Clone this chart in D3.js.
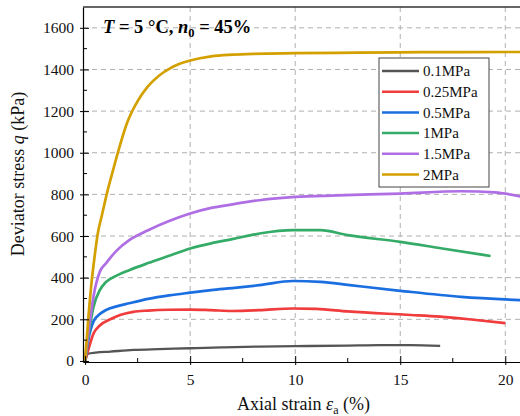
<!DOCTYPE html>
<html>
<head>
<meta charset="utf-8">
<script src="https://cdn.jsdelivr.net/npm/d3@7"></script>
<style>
  body { margin: 0; background: #fff; }
  text { font-family: "Liberation Serif", "DejaVu Serif", serif; }
</style>
</head>
<body>
<div id="wrapper"></div>
<script>
const seriesNames = ["0.1MPa", "0.25MPa", "0.5MPa", "1MPa", "1.5MPa", "2MPa"]
const seriesColors = ["#555555", "#f03c3c", "#1a6ee0", "#35ab68", "#b06ee4", "#d4a000"]

// [axial strain %, deviator stress kPa]
const s01 = [[0,0],[0.15,35],[0.5,40],[1.2,45],[2.3,53],[3.5,57],[5,61],[6.5,65],[8.3,69],[10,71],[12.5,74],[14,76],[15.5,76],[16.9,72]]
const s025 = [[0,0],[0.2,70],[0.4,132],[0.7,170],[1.2,200],[1.7,222],[2.3,236],[3,242],[4,246],[5,247],[6,244],[7,240],[8.3,244],[9.9,252],[11,250],[12.5,238],[15.3,222],[16.9,213],[18.5,198],[20,182]]
const s05 = [[0,0],[0.15,100],[0.4,190],[0.7,225],[1,245],[1.5,262],[2.1,277],[3,298],[4,315],[5,328],[6,340],[7,350],[8.3,364],[9.9,384],[11.2,380],[12.6,364],[15,337],[17.9,308],[20.8,292]]
const s1 = [[0,0],[0.2,150],[0.4,260],[0.7,340],[1,380],[1.5,410],[2.1,436],[3,470],[4,505],[5,540],[6,565],[7,585],[8.3,612],[9.9,628],[11.2,628],[12.5,604],[15,572],[17,540],[19.3,504]]
const s15 = [[0,0],[0.2,170],[0.4,310],[0.7,428],[1,470],[1.5,530],[2.1,580],[3,628],[4,672],[5,708],[6,735],[7,752],[8.3,772],[10,788],[12,795],[15,804],[17.9,815],[19.5,810],[20.8,788]]
const s2 = [[0,0],[0.15,200],[0.3,370],[0.45,500],[0.6,610],[0.8,700],[1.05,810],[1.3,905],[1.6,1015],[2,1144],[2.5,1248],[3,1320],[3.5,1369],[4,1403],[4.5,1427],[5,1443],[6,1463],[7,1471],[8,1475],[10,1478],[13,1481],[16,1483],[20.8,1484]]
const seriesData = [s01, s025, s05, s1, s15, s2]

const xTicks = [0, 5, 10, 15, 20]
const xMinorTicks = [2.5, 7.5, 12.5, 17.5]
const yTicks = [0, 200, 400, 600, 800, 1000, 1200, 1400, 1600]
const yMinorTicks = [100, 300, 500, 700, 900, 1100, 1300, 1500]

const width = 520
const height = 416
const margin = { top: 7, right: 0, bottom: 54, left: 83 }
const boundedWidth = width - margin.left - margin.right
const boundedHeight = height - margin.top - margin.bottom

const svg = d3.select("#wrapper")
  .append("svg")
    .attr("width", width)
    .attr("height", height)

const bounds = svg.append("g")
    .attr("transform", `translate(${margin.left},${margin.top})`)

const xScale = d3.scaleLinear()
    .domain([-0.1, 20.7])
    .range([0, boundedWidth])

const yScale = d3.scaleLinear()
    .domain([-5, 1700])
    .range([boundedHeight, 0])

// grid
bounds.append("g")
  .selectAll("line")
  .data(xTicks.filter(d => d > 0))
  .join("line")
    .attr("x1", d => xScale(d))
    .attr("x2", d => xScale(d))
    .attr("y1", 0)
    .attr("y2", boundedHeight)
    .attr("stroke", "#b0b0b0")
    .attr("stroke-dasharray", "5,4")
bounds.append("g")
  .selectAll("line")
  .data(yTicks.filter(d => d > 0))
  .join("line")
    .attr("x1", 0)
    .attr("x2", boundedWidth)
    .attr("y1", d => yScale(d))
    .attr("y2", d => yScale(d))
    .attr("stroke", "#b0b0b0")
    .attr("stroke-dasharray", "5,4")

// curves
const lineGenerator = d3.line()
  .x(d => xScale(d[0]))
  .y(d => yScale(d[1]))
  .curve(d3.curveMonotoneX)

svg.append("clipPath").attr("id", "clip")
  .append("rect").attr("width", boundedWidth).attr("height", boundedHeight)

bounds.append("g")
    .attr("clip-path", "url(#clip)")
  .selectAll("path")
  .data(seriesData)
  .join("path")
    .attr("d", d => lineGenerator(d))
    .attr("fill", "none")
    .attr("stroke", (d, i) => seriesColors[i])
    .attr("stroke-width", (d, i) => i === 0 ? 2.3 : 2.7)

// axes
const xAxis = bounds.append("g")
    .attr("transform", `translate(0,${boundedHeight})`)
    .call(d3.axisBottom(xScale).tickValues(xTicks).tickFormat(d3.format("d"))
      .tickSizeInner(-6).tickSizeOuter(0).tickPadding(12))
xAxis.selectAll(".tick line").attr("y1", 3)
xAxis.append("g")
  .selectAll("line")
  .data(xMinorTicks)
  .join("line")
    .attr("x1", d => xScale(d))
    .attr("x2", d => xScale(d))
    .attr("y1", 0)
    .attr("y2", -4)
    .attr("stroke", "#000")

const yAxis = bounds.append("g")
    .call(d3.axisLeft(yScale).tickValues(yTicks).tickFormat(d3.format("d"))
      .tickSizeInner(-6).tickSizeOuter(0).tickPadding(9))
yAxis.selectAll(".tick line").attr("x1", -3)
yAxis.append("g")
  .selectAll("line")
  .data(yMinorTicks)
  .join("line")
    .attr("x1", 0)
    .attr("x2", 4)
    .attr("y1", d => yScale(d))
    .attr("y2", d => yScale(d))
    .attr("stroke", "#000")

svg.selectAll(".tick text")
    .style("font-family", "'Liberation Serif', serif")
    .style("font-size", "15.5px")
    .attr("fill", "#111")
svg.selectAll(".domain").attr("stroke", "#000").attr("stroke-width", 1.2)

// top frame
bounds.append("line")
    .attr("x1", 0).attr("x2", boundedWidth)
    .attr("y1", 0).attr("y2", 0)
    .attr("stroke", "#333")
    .attr("stroke-width", 1.5)

// title
const title = bounds.append("text")
    .attr("x", 20)
    .attr("y", 26)
    .attr("font-size", 18.5)
    .attr("font-weight", "bold")
    .attr("fill", "#000")
title.append("tspan").attr("font-style", "italic").text("T")
title.append("tspan").text(" = 5 °C, ")
title.append("tspan").attr("font-style", "italic").text("n")
title.append("tspan").attr("font-size", 12.5).attr("dy", 4).text("0")
title.append("tspan").attr("dy", -4).text(" = 45%")

// legend
const legend = svg.append("g").attr("transform", "translate(379,58)")
legend.append("rect")
    .attr("width", 110)
    .attr("height", 129)
    .attr("fill", "#fff")
    .attr("stroke", "#444")
const legendItems = legend.selectAll("g")
  .data(seriesNames)
  .join("g")
    .attr("transform", (d, i) => `translate(0,${13 + i * 20.7})`)
legendItems.append("line")
    .attr("x1", 3).attr("x2", 40)
    .attr("stroke", (d, i) => seriesColors[i])
    .attr("stroke-width", 2.5)
legendItems.append("text")
    .attr("x", 44)
    .attr("dy", "0.35em")
    .attr("font-size", 15)
    .attr("fill", "#111")
    .text(d => d)

// axis labels
const xLabel = svg.append("text")
    .attr("x", margin.left + boundedWidth / 2 + 2)
    .attr("y", 410)
    .attr("text-anchor", "middle")
    .attr("font-size", 18)
    .attr("fill", "#111")
xLabel.append("tspan").text("Axial strain ")
xLabel.append("tspan").attr("font-style", "italic").text("ε")
xLabel.append("tspan").attr("font-size", 12).attr("dy", 4).text("a")
xLabel.append("tspan").attr("dy", -4).text(" (%)")

const yLabel = svg.append("text")
    .attr("transform", "translate(24,174) rotate(-90)")
    .attr("text-anchor", "middle")
    .attr("font-size", 18)
    .attr("fill", "#111")
yLabel.append("tspan").text("Deviator stress ")
yLabel.append("tspan").attr("font-style", "italic").text("q")
yLabel.append("tspan").text("  (kPa)")
</script>
</body>
</html>
